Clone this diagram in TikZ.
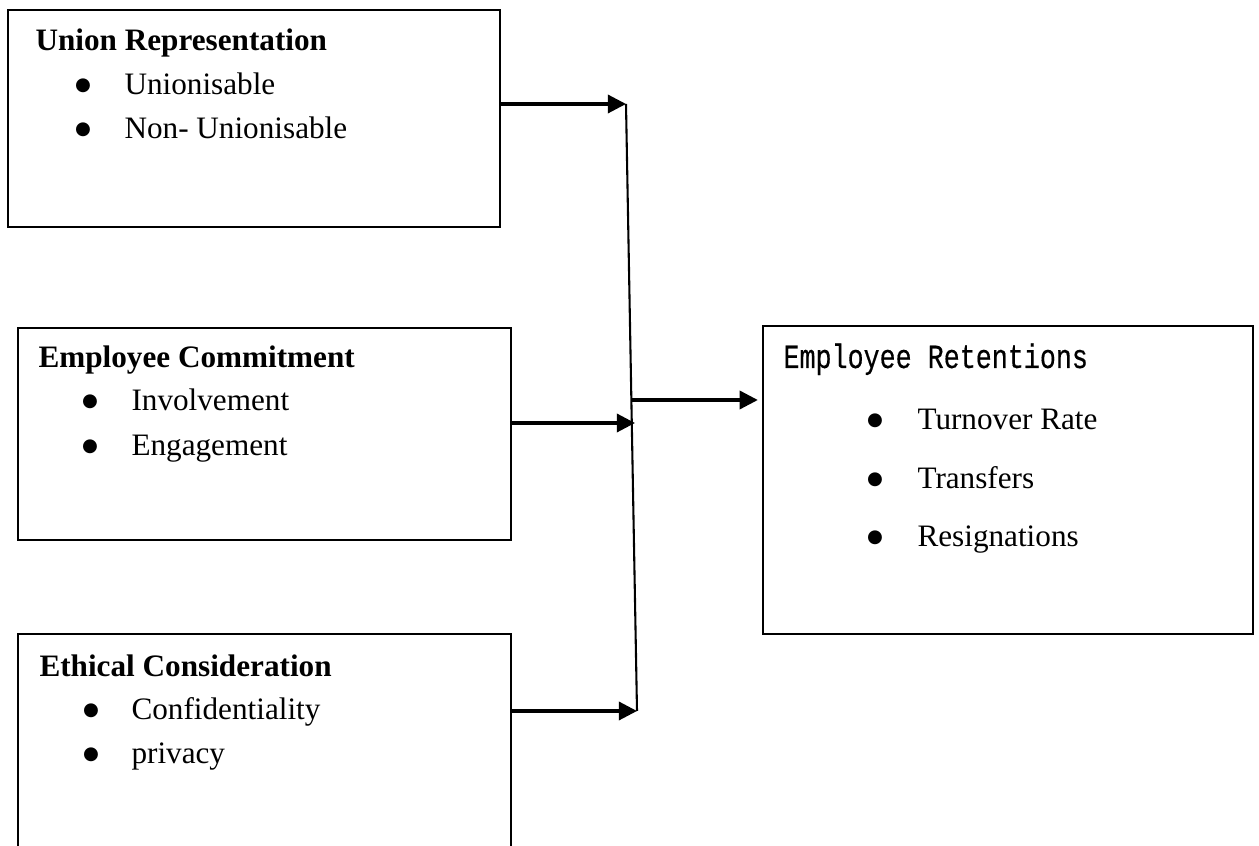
\documentclass[tikz,border=0pt]{standalone}
\usepackage{fontspec}
\setmainfont{Liberation Serif}
\newfontfamily\retfont[FakeStretch=0.79,FakeBold=0.4]{Liberation Mono}
\newfontfamily\bulfont{DejaVu Sans}
\usetikzlibrary{arrows.meta,fit}
\def\u{0.3846pt}
\newcommand{\bigbul}{\raisebox{1.9pt}{\bulfont\fontsize{7pt}{7.5pt}\selectfont ●}}
\begin{document}
\begin{tikzpicture}[x=\u,y=-\u,
  box/.style={draw, line width=0.75pt, inner sep=0pt, outer sep=0pt},
  txt/.style={anchor=base west, inner sep=0pt, font=\fontsize{12pt}{14pt}\selectfont},
  head/.style={anchor=base west, inner sep=0pt, font=\fontsize{12pt}{14pt}\selectfont\bfseries},
  bul/.style={anchor=base, inner sep=0pt, font=\fontsize{12pt}{14pt}\selectfont},
  arr/.style={line width=1.2pt, -{Triangle[length=7pt,width=7pt]}},
  vline/.style={line width=0.8pt}]
\clip (0,0) rectangle (1259,846);
\fill[white] (0,0) rectangle (1259,846);

% boxes
\node[box, fit={(8,10)(500,227)}] (b1) {};
\node[box, fit={(18,328)(511,540)}] (b2) {};
\node[box, fit={(18,634)(511,870)}] (b3) {};
\node[box, fit={(763,326)(1253,634)}] (b4) {};

% box 1 text
\node[head] (t1) at (35,51) {Union Representation};
\node[bul] (p11) at (83,95) {\bigbul};
\node[txt] (i11) at (124,95) {Unionisable};
\node[bul] (p12) at (83,139) {\bigbul};
\node[txt] (i12) at (124,139) {Non- Unionisable};

% box 2 text
\node[head] (t2) at (38,368) {Employee Commitment};
\node[bul] (p21) at (90,411) {\bigbul};
\node[txt] (i21) at (131,411) {Involvement};
\node[bul] (p22) at (90,456) {\bigbul};
\node[txt] (i22) at (131,456) {Engagement};

% box 3 text
\node[head] (t3) at (39,677) {Ethical Consideration};
\node[bul] (p31) at (91,720) {\bigbul};
\node[txt] (i31) at (131,720) {Confidentiality};
\node[bul] (p32) at (91,764) {\bigbul};
\node[txt] (i32) at (131,764) {privacy};

% box 4 text
\node[txt, font=\fontsize{13pt}{15pt}\retfont] (t4) at (783,368) {Employee Retentions};
\node[bul] (p41) at (875,430) {\bigbul};
\node[txt] (i41) at (917,430) {Turnover Rate};
\node[bul] (p42) at (875,489) {\bigbul};
\node[txt] (i42) at (917,489) {Transfers};
\node[bul] (p43) at (875,547) {\bigbul};
\node[txt] (i43) at (917,547) {Resignations};

% connectors
\coordinate (j1) at (626,104);
\coordinate (j2) at (637,711);
\coordinate (m) at (635,423);
\coordinate (o) at (631.4,400);

\draw[vline] (j1) -- (j2);
\draw[arr] (b1.east |- j1) -- (j1);
\draw[arr] (b2.east |- m) -- (m);
\draw[arr] (b3.east |- j2) -- (j2);
\draw[arr, shorten >=2pt] (o) -- (b4.west |- o);
\end{tikzpicture}
\end{document}
